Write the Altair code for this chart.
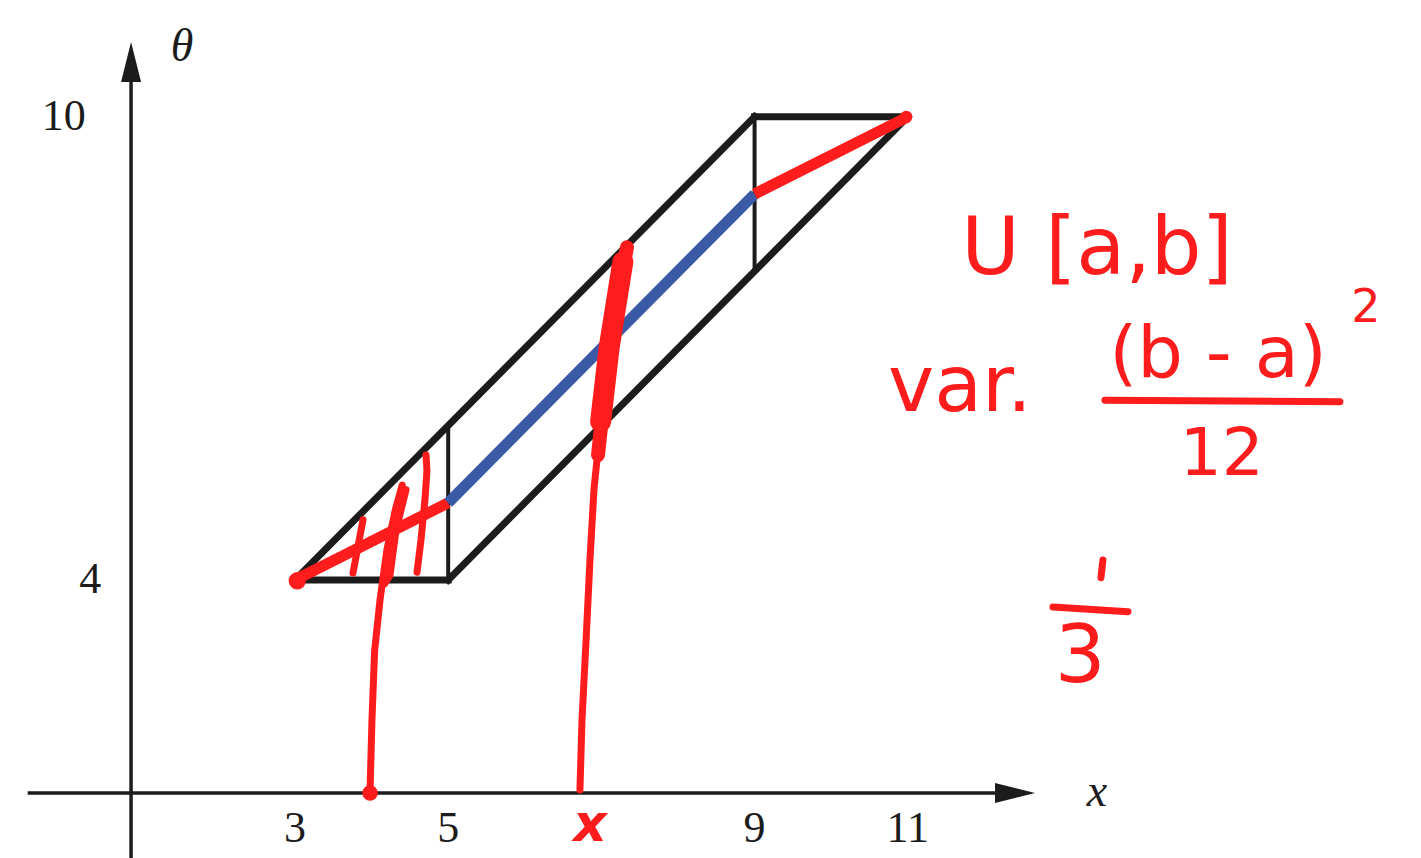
import altair as alt
import pandas as pd

# ---------------- coordinate frame (data units) ----------------
x_domain = [-0.851, 17.70]
t_domain = [0.399, 11.513]

# axes cross at this point, arrows start at the *_end values
axis_x0, axis_t0 = 0.86, 1.24
x_axis_start, x_axis_end = -0.49, 12.15
t_axis_end = 10.45
x_arrow = (12.40, 1.24)
t_arrow = (0.86, 10.71)

# ---------------- support of (x, theta) ----------------
frame_x1 = [3, 5, 9, 3]
frame_t1 = [4, 4, 10, 4]
frame_x2 = [5, 11, 11, 9]
frame_t2 = [4, 10, 10, 10]

cut_x = [5, 9]
cut_t1 = [4, 8]
cut_t2 = [6, 10]

# conditional mean of theta given x
mean_x = [3, 5, 9, 11]
mean_t = [4, 5, 9, 10]

# tick labels
xtick_vals = [3, 5, 9, 11]
xtick_t = 0.77
ytick_vals = [10, 4]
ytick_x = [0.27, 0.47]

# ---------------- hand annotations ----------------
strokes = {
    "left_drop": ([3.98, 4.005, 4.04, 4.11, 4.20, 4.31, 4.40],
                  [1.28, 2.19, 3.09, 3.74, 4.39, 4.91, 5.23]),
    "left_drop_b": ([4.17, 4.24, 4.32, 4.45],
                    [3.95, 4.06, 4.65, 5.17]),
    "hatch_1": ([3.757, 3.888], [4.09, 4.78]),
    "hatch_2": ([4.593, 4.645, 4.697, 4.723, 4.71],
                [4.10, 4.52, 5.04, 5.42, 5.62]),
    "right_drop": ([6.72, 6.747, 6.80, 6.851, 6.903, 6.969],
                   [1.28, 2.19, 3.22, 4.26, 5.17, 5.81]),
    "bar_var": ([13.574, 16.642], [6.33, 6.31]),
    "bar_third": ([12.895, 13.875], [3.65, 3.59]),
    "one_tick": ([13.548, 13.522], [4.26, 4.03]),
}
slice_x = [6.956, 7.06, 7.164, 7.334]
slice_t = [5.62, 6.59, 7.37, 8.31]
slice_core_x = [6.99, 7.10, 7.28]
slice_core_t = [6.05, 7.0, 8.12]

dots_x = [3.98, 3.03, 10.98]
dots_t = [1.24, 3.99, 10.0]
dots_size = [240, 300, 150]

notes = [
    ("U [a,b]", 13.47, 8.27, 80),
    ("var.", 11.68, 6.49, 78),
    ("(b - a)", 15.05, 6.91, 72),
    ("2", 16.98, 7.52, 46),
    ("12", 15.10, 5.62, 66),
    ("3", 13.25, 2.99, 80),
]
x_mark = ("x", 6.85, 0.83)

# ---------------- colours ----------------
INK = "#1c1c1c"
RED = "#ff1c1c"
BLUE = "#3a5aa6"

xs = alt.Scale(domain=x_domain, nice=False, zero=False)
ts = alt.Scale(domain=t_domain, nice=False, zero=False)


def X(f="x"):
    return alt.X(f"{f}:Q", scale=xs, axis=None)


def Y(f="t"):
    return alt.Y(f"{f}:Q", scale=ts, axis=None)


def segments(df, width, color, cap="round"):
    return alt.Chart(df).mark_rule(
        strokeWidth=width, color=color, strokeCap=cap
    ).encode(x=X(), y=Y(), x2="x2:Q", y2="t2:Q")


# axes
axes_df = pd.DataFrame({
    "x": [x_axis_start, axis_x0],
    "t": [axis_t0, t_domain[0]],
    "x2": [x_axis_end, axis_x0],
    "t2": [axis_t0, t_axis_end],
})
axes = segments(axes_df, 3.5, INK, "butt")

arrow_up = alt.Chart(pd.DataFrame({"x": [t_arrow[0]], "t": [t_arrow[1]]})).mark_point(
    shape="M0,-1L0.5,1L-0.5,1Z", size=1600, filled=True, color=INK, opacity=1, strokeWidth=0
).encode(x=X(), y=Y())
arrow_right = alt.Chart(pd.DataFrame({"x": [x_arrow[0]], "t": [x_arrow[1]]})).mark_point(
    shape="M1,0L-1,-0.5L-1,0.5Z", size=1600, filled=True, color=INK, opacity=1, strokeWidth=0
).encode(x=X(), y=Y())

frame = segments(pd.DataFrame({"x": frame_x1, "t": frame_t1, "x2": frame_x2, "t2": frame_t2}),
                 7, INK, "square")
cuts = segments(pd.DataFrame({"x": cut_x, "t": cut_t1, "x2": cut_x, "t2": cut_t2}), 4, INK, "butt")

mean_df = pd.DataFrame({
    "x": mean_x[:-1], "t": mean_t[:-1], "x2": mean_x[1:], "t2": mean_t[1:],
    "c": [RED, BLUE, RED],
})
mean_line = alt.Chart(mean_df).mark_rule(strokeWidth=11, strokeCap="butt").encode(
    x=X(), y=Y(), x2="x2:Q", y2="t2:Q", color=alt.Color("c:N", scale=None)
)

rows = []
for name, (sx, st) in strokes.items():
    for i, (a, b) in enumerate(zip(sx, st)):
        rows.append({"id": name, "i": i, "x": a, "t": b})
stroke_df = pd.DataFrame(rows)
hand = alt.Chart(stroke_df).mark_line(
    color=RED, strokeWidth=7, strokeCap="round", strokeJoin="round"
).encode(x=X(), y=Y(), detail="id:N", order="i:Q")

slice_outer = alt.Chart(pd.DataFrame({"x": slice_x, "t": slice_t, "i": range(len(slice_x))})).mark_line(
    color=RED, strokeWidth=14, strokeCap="round", strokeJoin="round"
).encode(x=X(), y=Y(), order="i:Q")
slice_core = alt.Chart(pd.DataFrame({"x": slice_core_x, "t": slice_core_t, "i": range(len(slice_core_x))})).mark_line(
    color=RED, strokeWidth=21, strokeCap="round", strokeJoin="round"
).encode(x=X(), y=Y(), order="i:Q")

dots = alt.Chart(pd.DataFrame({"x": dots_x, "t": dots_t, "s": dots_size})).mark_circle(
    color=RED, opacity=1
).encode(x=X(), y=Y(), size=alt.Size("s:Q", scale=None))

# printed labels
serif = "Liberation Serif"
xticks = alt.Chart(pd.DataFrame({"x": xtick_vals, "t": [xtick_t] * 4,
                                 "lab": [str(v) for v in xtick_vals]})).mark_text(
    font=serif, fontSize=44, color=INK, baseline="middle"
).encode(x=X(), y=Y(), text="lab:N")
yticks = alt.Chart(pd.DataFrame({"x": ytick_x, "t": ytick_vals,
                                 "lab": [str(v) for v in ytick_vals]})).mark_text(
    font=serif, fontSize=44, color=INK, baseline="middle", align="right"
).encode(x=X(), y=Y(), text="lab:N")
axis_names = alt.Chart(pd.DataFrame({"x": [13.47, 1.525], "t": [1.26, 10.90],
                                     "lab": ["x", "θ"]})).mark_text(
    font=serif, fontSize=46, fontStyle="italic", color=INK, baseline="middle"
).encode(x=X(), y=Y(), text="lab:N")

# handwritten notes
note_df = pd.DataFrame(notes, columns=["lab", "x", "t", "fs"])
note_text = alt.Chart(note_df).mark_text(
    font="DejaVu Sans", color=RED, baseline="middle"
).encode(x=X(), y=Y(), text="lab:N", size=alt.Size("fs:Q", scale=None))
x_note = alt.Chart(pd.DataFrame({"lab": [x_mark[0]], "x": [x_mark[1]], "t": [x_mark[2]]})).mark_text(
    font="DejaVu Sans", fontSize=52, fontStyle="italic", fontWeight="bold", color=RED, baseline="middle"
).encode(x=X(), y=Y(), text="lab:N")

chart = alt.layer(
    axes, arrow_up, arrow_right, frame, cuts, mean_line,
    hand, slice_outer, slice_core, dots,
    xticks, yticks, axis_names, note_text, x_note,
).properties(
    width=1421, height=858, padding=0, autosize="none", background="white"
).configure_view(stroke=None)

chart.save("out.html", embed_options={"renderer": "svg", "actions": False})
